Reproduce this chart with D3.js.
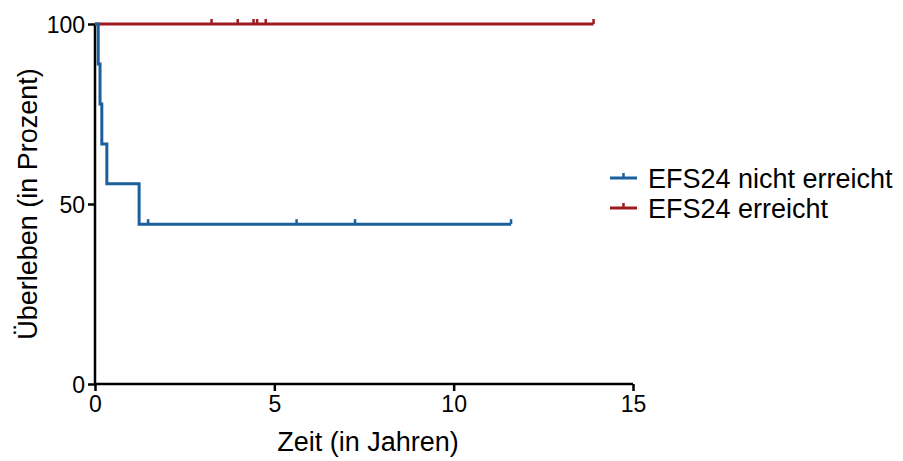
<!DOCTYPE html>
<html>
<head>
<meta charset="utf-8">
<script src="https://cdn.jsdelivr.net/npm/d3@7"></script>
<style>
  body { margin: 0; background: #fff; }
  text { font-family: "Liberation Sans", Arial, sans-serif; }
</style>
</head>
<body>
<script>
// --- Data ---
const xTicks = [0, 5, 10, 15];
const yTicks = [0, 50, 100];

// EFS24 nicht erreicht (blue)
const blueEventTimes = [0.09, 0.14, 0.19, 0.33, 1.23];
const blueEventSurv  = [88.9, 77.8, 66.7, 55.6, 44.4];
const blueCensorTimes = [1.48, 5.62, 7.25, 11.6];
const blueEnd = 11.6;

// EFS24 erreicht (red)
const redEventTimes = [];
const redEventSurv  = [];
const redCensorTimes = [3.25, 3.98, 4.42, 4.52, 4.76, 13.9];
const redEnd = 13.9;

const seriesNames = ["EFS24 nicht erreicht", "EFS24 erreicht"];
const seriesColors = ["#1b5f9c", "#9e1b20"];

// --- Layout ---
const W = 903, H = 461;
const X0 = 95, X1 = 633, Y0 = 384, Y1 = 24;

const svg = d3.select("body").append("svg")
  .attr("width", W).attr("height", H);

const x = d3.scaleLinear().domain([0, 15]).range([X0, X1]);
const y = d3.scaleLinear().domain([0, 100]).range([Y0, Y1]);

function survAt(times, surv, t) {
  let s = 100;
  times.forEach((et, i) => { if (et <= t) s = surv[i]; });
  return s;
}

function stepPoints(times, surv, end) {
  const pts = [[0, 100]];
  times.forEach((t, i) => pts.push([t, surv[i]]));
  pts.push([end, survAt(times, surv, end)]);
  return pts;
}

const series = [
  { name: seriesNames[0], color: seriesColors[0], pts: stepPoints(blueEventTimes, blueEventSurv, blueEnd),
    censors: blueCensorTimes.map(t => [t, survAt(blueEventTimes, blueEventSurv, t)]) },
  { name: seriesNames[1], color: seriesColors[1], pts: stepPoints(redEventTimes, redEventSurv, redEnd),
    censors: redCensorTimes.map(t => [t, survAt(redEventTimes, redEventSurv, t)]) }
];

// --- Axes ---
const xAxis = svg.append("g")
  .attr("transform", `translate(0,${Y0})`)
  .call(d3.axisBottom(x).tickValues(xTicks).tickSize(7).tickPadding(5));
const yAxis = svg.append("g")
  .attr("transform", `translate(${X0},0)`)
  .call(d3.axisLeft(y).tickValues(yTicks).tickSize(7).tickPadding(3));

[xAxis, yAxis].forEach(g => {
  g.select(".domain").attr("stroke", "#000").attr("stroke-width", 2.5)
    .attr("d", g === xAxis ? `M${X0},0H${X1}` : `M0,${Y0}V${Y1}`);
  g.selectAll(".tick line").attr("stroke", "#000").attr("stroke-width", 2.5);
  g.selectAll(".tick text").attr("fill", "#000").attr("font-size", 23)
    .attr("font-family", "'Liberation Sans', Arial, sans-serif");
});
yAxis.selectAll(".tick text").attr("dy", "0.36em");

// --- Curves (red first, blue on top) ---
const line = d3.line().x(d => x(d[0])).y(d => y(d[1])).curve(d3.curveStepAfter);

series.slice().reverse().forEach(s => {
  svg.append("path")
    .attr("d", line(s.pts))
    .attr("fill", "none")
    .attr("stroke", s.color)
    .attr("stroke-width", 3);
  svg.selectAll(null).data(s.censors).enter().append("line")
    .attr("x1", d => x(d[0])).attr("x2", d => x(d[0]))
    .attr("y1", d => y(d[1])).attr("y2", d => y(d[1]) - 5)
    .attr("stroke", s.color).attr("stroke-width", 2.5);
});

// --- Axis titles ---
svg.append("text")
  .attr("x", (X0 + X1) / 2 + 4).attr("y", 451)
  .attr("text-anchor", "middle")
  .attr("font-size", 27)
  .text("Zeit (in Jahren)");

svg.append("text")
  .attr("transform", `translate(37,${(Y0 + Y1) / 2}) rotate(-90)`)
  .attr("text-anchor", "middle")
  .attr("font-size", 27)
  .text("Überleben (in Prozent)");

// --- Legend ---
const legend = svg.append("g");
series.forEach((s, i) => {
  const ly = 178 + i * 30;
  legend.append("line")
    .attr("x1", 610).attr("x2", 637).attr("y1", ly).attr("y2", ly)
    .attr("stroke", s.color).attr("stroke-width", 3);
  legend.append("line")
    .attr("x1", 623.5).attr("x2", 623.5).attr("y1", ly).attr("y2", ly - 5)
    .attr("stroke", s.color).attr("stroke-width", 2.5);
  legend.append("text")
    .attr("x", 648).attr("y", ly + 9.5)
    .attr("font-size", 27)
    .attr("fill", "#000")
    .text(s.name);
});
</script>
</body>
</html>
